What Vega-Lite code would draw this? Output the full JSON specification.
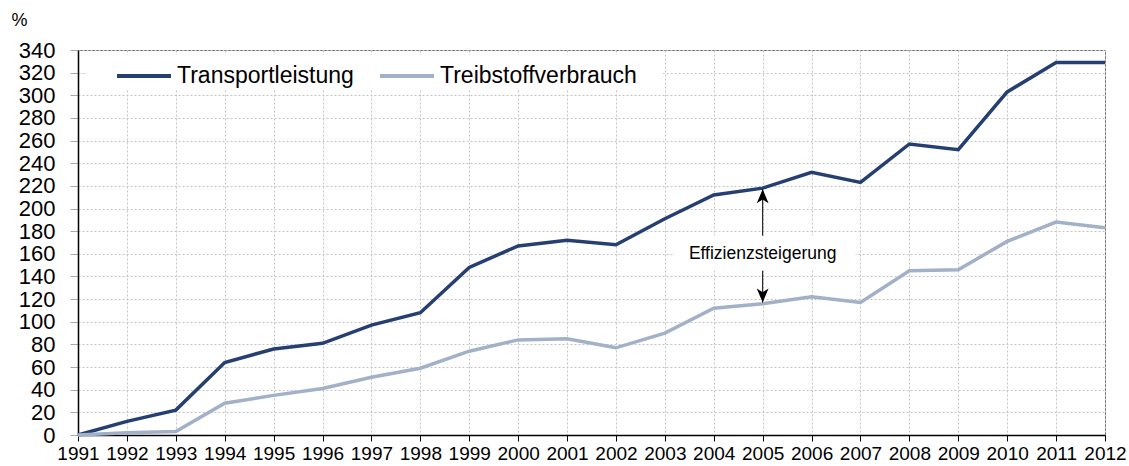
{
  "$schema": "https://vega.github.io/schema/vega-lite/v6.json",
  "width": 1027,
  "height": 385,
  "autosize": {"type": "none"},
  "padding": {"left": 78, "top": 50, "right": 24, "bottom": 31},
  "background": "white",
  "config": {
    "view": {"stroke": "#666666", "strokeWidth": 1},
    "font": "Liberation Sans",
    "axis": {"labelOverlap": false}
  },
  "datasets": {
    "series": [
      {"year": 1991, "series": "Transportleistung", "value": 0},
      {"year": 1992, "series": "Transportleistung", "value": 12},
      {"year": 1993, "series": "Transportleistung", "value": 22},
      {"year": 1994, "series": "Transportleistung", "value": 64},
      {"year": 1995, "series": "Transportleistung", "value": 76},
      {"year": 1996, "series": "Transportleistung", "value": 81},
      {"year": 1997, "series": "Transportleistung", "value": 97},
      {"year": 1998, "series": "Transportleistung", "value": 108},
      {"year": 1999, "series": "Transportleistung", "value": 148},
      {"year": 2000, "series": "Transportleistung", "value": 167},
      {"year": 2001, "series": "Transportleistung", "value": 172},
      {"year": 2002, "series": "Transportleistung", "value": 168},
      {"year": 2003, "series": "Transportleistung", "value": 191},
      {"year": 2004, "series": "Transportleistung", "value": 212},
      {"year": 2005, "series": "Transportleistung", "value": 218},
      {"year": 2006, "series": "Transportleistung", "value": 232},
      {"year": 2007, "series": "Transportleistung", "value": 223},
      {"year": 2008, "series": "Transportleistung", "value": 257},
      {"year": 2009, "series": "Transportleistung", "value": 252},
      {"year": 2010, "series": "Transportleistung", "value": 303},
      {"year": 2011, "series": "Transportleistung", "value": 329},
      {"year": 2012, "series": "Transportleistung", "value": 329},
      {"year": 1991, "series": "Treibstoffverbrauch", "value": 0},
      {"year": 1992, "series": "Treibstoffverbrauch", "value": 2},
      {"year": 1993, "series": "Treibstoffverbrauch", "value": 3},
      {"year": 1994, "series": "Treibstoffverbrauch", "value": 28},
      {"year": 1995, "series": "Treibstoffverbrauch", "value": 35},
      {"year": 1996, "series": "Treibstoffverbrauch", "value": 41},
      {"year": 1997, "series": "Treibstoffverbrauch", "value": 51},
      {"year": 1998, "series": "Treibstoffverbrauch", "value": 59},
      {"year": 1999, "series": "Treibstoffverbrauch", "value": 74},
      {"year": 2000, "series": "Treibstoffverbrauch", "value": 84},
      {"year": 2001, "series": "Treibstoffverbrauch", "value": 85},
      {"year": 2002, "series": "Treibstoffverbrauch", "value": 77},
      {"year": 2003, "series": "Treibstoffverbrauch", "value": 90},
      {"year": 2004, "series": "Treibstoffverbrauch", "value": 112},
      {"year": 2005, "series": "Treibstoffverbrauch", "value": 116},
      {"year": 2006, "series": "Treibstoffverbrauch", "value": 122},
      {"year": 2007, "series": "Treibstoffverbrauch", "value": 117},
      {"year": 2008, "series": "Treibstoffverbrauch", "value": 145},
      {"year": 2009, "series": "Treibstoffverbrauch", "value": 146},
      {"year": 2010, "series": "Treibstoffverbrauch", "value": 171},
      {"year": 2011, "series": "Treibstoffverbrauch", "value": 188},
      {"year": 2012, "series": "Treibstoffverbrauch", "value": 183}
    ],
    "annotation": [
      {"label": "Effizienzsteigerung", "year": 2005, "labelValue": 160, "boxX1": 2003.2, "boxX2": 2006.9, "boxY1": 145, "boxY2": 176, "upFrom": 176, "upTo": 217, "downFrom": 145, "downTo": 117}
    ],
    "legendBox": [
      {"x1": 1991.18, "x2": 2002.96, "y1": 304.7, "y2": 335.6}
    ]
  },
  "layer": [
    {
      "data": {"name": "series"},
      "mark": {"type": "line", "strokeWidth": 3.5, "strokeJoin": "miter", "clip": false},
      "encoding": {
        "x": {
          "field": "year", "type": "quantitative",
          "scale": {"domain": [1991, 2012], "nice": false, "zero": false},
          "axis": {
            "title": null,
            "values": [1991,1992,1993,1994,1995,1996,1997,1998,1999,2000,2001,2002,2003,2004,2005,2006,2007,2008,2009,2010,2011,2012],
            "tickCount": 30,
            "format": "d",
            "labelFontSize": 19,
            "labelColor": "#000000",
            "labelPadding": 3,
            "labelFlush": false,
            "labelOverlap": false,
            "tickSize": 6,
            "tickColor": "#000000",
            "domainColor": "#000000",
            "domainWidth": 1.5,
            "grid": true,
            "gridColor": "#c4c4c4",
            "gridDash": [2, 2],
            "gridWidth": 1
          }
        },
        "y": {
          "field": "value", "type": "quantitative",
          "scale": {"domain": [0, 340], "nice": false},
          "axis": {
            "title": "%",
            "titleAngle": 0,
            "titleX": -67,
            "titleY": -25,
            "titleAlign": "left",
            "titleBaseline": "alphabetic",
            "titleFontSize": 18,
            "titleFontWeight": "normal",
            "titleColor": "#000000",
            "values": [0,20,40,60,80,100,120,140,160,180,200,220,240,260,280,300,320,340],
            "tickCount": 30,
            "labelFontSize": 22,
            "labelColor": "#000000",
            "labelPadding": 15,
            "labelOverlap": false,
            "labelFlush": false,
            "tickSize": 8,
            "tickColor": "#aaaaaa",
            "domainColor": "#000000",
            "domainWidth": 1.5,
            "grid": true,
            "gridColor": "#c4c4c4",
            "gridDash": [2, 2],
            "gridWidth": 1
          }
        },
        "color": {
          "field": "series", "type": "nominal",
          "scale": {"domain": ["Transportleistung", "Treibstoffverbrauch"], "range": ["#263f72", "#a2b0c8"]},
          "legend": {
            "title": null,
            "orient": "none",
            "direction": "horizontal",
            "legendX": 29,
            "legendY": -11,
            "padding": 8,
            "symbolType": "stroke",
            "symbolSize": 2916,
            "symbolStrokeWidth": 4,
            "labelFontSize": 23,
            "labelColor": "#000000",
            "labelOffset": 4,
            "columnPadding": 18,
            "labelLimit": 400
          }
        }
      }
    },
    {
      "data": {"name": "legendBox"},
      "mark": {"type": "rect", "fill": "white", "stroke": null},
      "encoding": {
        "x": {"field": "x1", "type": "quantitative"},
        "x2": {"field": "x2"},
        "y": {"field": "y1", "type": "quantitative"},
        "y2": {"field": "y2"}
      }
    },
    {
      "data": {"name": "annotation"},
      "mark": {"type": "rect", "fill": "white", "stroke": null},
      "encoding": {
        "x": {"field": "boxX1", "type": "quantitative"},
        "x2": {"field": "boxX2"},
        "y": {"field": "boxY1", "type": "quantitative"},
        "y2": {"field": "boxY2"}
      }
    },
    {
      "data": {"name": "annotation"},
      "mark": {"type": "text", "fontSize": 17.5, "color": "#000000", "align": "center", "baseline": "middle"},
      "encoding": {
        "x": {"field": "year", "type": "quantitative"},
        "y": {"field": "labelValue", "type": "quantitative"},
        "text": {"field": "label"}
      }
    },
    {
      "data": {"name": "annotation"},
      "mark": {"type": "rule", "color": "#000000", "strokeWidth": 1},
      "encoding": {
        "x": {"field": "year", "type": "quantitative"},
        "y": {"field": "upFrom", "type": "quantitative"},
        "y2": {"field": "upTo"}
      }
    },
    {
      "data": {"name": "annotation"},
      "mark": {"type": "rule", "color": "#000000", "strokeWidth": 1},
      "encoding": {
        "x": {"field": "year", "type": "quantitative"},
        "y": {"field": "downFrom", "type": "quantitative"},
        "y2": {"field": "downTo"}
      }
    },
    {
      "data": {"name": "annotation"},
      "mark": {"type": "point", "shape": "M0,0 L0.55,1.3 L0,0.95 L-0.55,1.3 Z", "filled": true, "color": "#000000", "opacity": 1, "size": 460},
      "encoding": {
        "x": {"field": "year", "type": "quantitative"},
        "y": {"field": "upTo", "type": "quantitative"}
      }
    },
    {
      "data": {"name": "annotation"},
      "mark": {"type": "point", "shape": "M0,0 L0.55,-1.3 L0,-0.95 L-0.55,-1.3 Z", "filled": true, "color": "#000000", "opacity": 1, "size": 460},
      "encoding": {
        "x": {"field": "year", "type": "quantitative"},
        "y": {"field": "downTo", "type": "quantitative"}
      }
    }
  ]
}
